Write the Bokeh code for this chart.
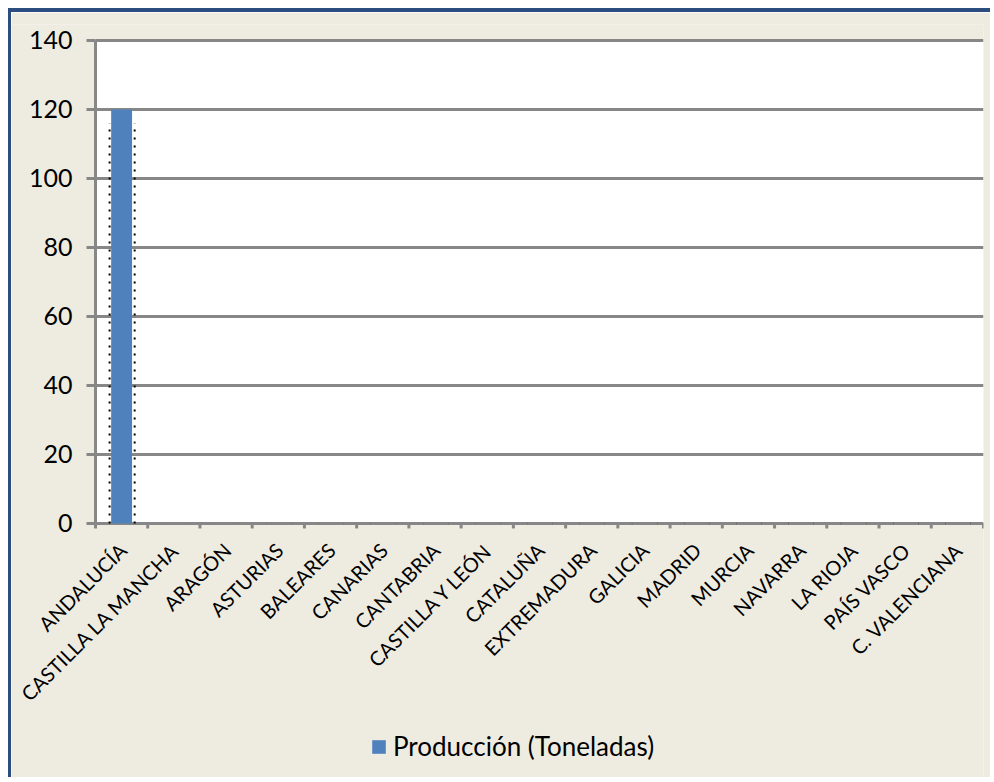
import numpy as np
from bokeh.plotting import figure
from bokeh.models import (ColumnDataSource, Range1d, FixedTicker, Legend, LegendItem)
from bokeh.core.properties import value
from bokeh.embed import file_html
from bokeh.resources import INLINE
from math import pi

# ---- data ----
comunidades = ["ANDALUCÍA", "CASTILLA LA MANCHA", "ARAGÓN", "ASTURIAS", "BALEARES",
               "CANARIAS", "CANTABRIA", "CASTILLA Y LEÓN", "CATALUÑA", "EXTREMADURA",
               "GALICIA", "MADRID", "MURCIA", "NAVARRA", "LA RIOJA", "PAÍS VASCO",
               "C. VALENCIANA"]
produccion = [120, 0, 0, 0, 0, 0, 0, 0, 0, 0, 0, 0, 0, 0, 0, 0, 0]
linea_punteada = [116, 0, 0, 0, 0, 0, 0, 0, 0, 0, 0, 0, 0, 0, 0, 0, 0]
y_ticks = [0, 20, 40, 60, 80, 100, 120, 140]
serie_nombre = "Producción (Toneladas)"

FONT = "Lato"
BG = "#EEECE1"
GRID = "#878787"
BAR = "#4F81BD"

n = len(comunidades)
idx = np.arange(n)
Y_MAX = 140
PX_PER_UNIT = 483 / Y_MAX
Y_TOP_VIEW = Y_MAX + 16 / PX_PER_UNIT   # room above so the top label is not clipped
Y_MIN_VIEW = -74.8                      # frame reaches down to hold labels + legend
X_MIN_VIEW = -2.108                     # frame reaches left to hold the long rotated labels
TICK_LEN = 5 / PX_PER_UNIT

p = figure(width=982, height=769, output_backend="svg", toolbar_location=None,
           x_range=Range1d(X_MIN_VIEW, n - 0.5), y_range=Range1d(Y_MIN_VIEW, Y_TOP_VIEW),
           x_axis_location=None,
           min_border_left=0, min_border_right=10, min_border_top=12,
           min_border_bottom=0)
p.styles = {"position": "relative", "left": "8px", "top": "8px",
            "border-top": "4px solid #2C4D7F", "border-left": "3px solid #2C4D7F"}
p.background_fill_color = BG
p.border_fill_color = BG
p.outline_line_color = None

# white plot area
p.quad(left=-0.5, right=n - 0.5, bottom=0, top=Y_MAX, fill_color="white",
       line_color=None, level="image")

# horizontal grid lines across the plot area only
p.segment(x0=-0.5, y0=y_ticks, x1=n - 0.5, y1=y_ticks, line_color=GRID,
          line_width=3, level="underlay")
p.xgrid.visible = False
p.ygrid.visible = False

src = ColumnDataSource(dict(x=idx, top=produccion, dots=linea_punteada,
                            y0=np.zeros(n), label=comunidades))
bars = p.vbar(x="x", top="top", width=0.4, source=src, fill_color=BAR, line_color=None)
p.segment(x0=idx - 0.23, y0=0, x1=idx - 0.23, y1=linea_punteada,
          line_color="black", line_width=2, line_dash="2 6")
p.segment(x0=idx + 0.25, y0=0, x1=idx + 0.25, y1=linea_punteada,
          line_color="black", line_width=2, line_dash="2 6")

# y axis (fixed at the left edge of the plot area)
p.yaxis.fixed_location = -0.5
p.yaxis.ticker = FixedTicker(ticks=y_ticks)
p.yaxis.bounds = (0, Y_MAX)
p.yaxis.axis_line_color = GRID
p.yaxis.axis_line_width = 3
p.yaxis.major_tick_line_color = GRID
p.yaxis.major_tick_line_width = 3
p.yaxis.major_tick_out = 9
p.yaxis.major_tick_in = 0
p.yaxis.minor_tick_line_color = None
p.yaxis.major_label_text_font = FONT
p.yaxis.major_label_text_font_size = "25px"
p.yaxis.major_label_text_color = "black"
p.yaxis.major_label_standoff = 14

# category axis: boundary ticks + rotated labels
bounds_x = np.arange(n + 1) - 0.5
p.segment(x0=bounds_x, y0=0, x1=bounds_x, y1=-TICK_LEN, line_color=GRID, line_width=3)
p.text(x="x", y="y0", text="label", source=src, angle=pi / 4,
       text_align="right", text_baseline="middle", x_offset=1, y_offset=23,
       text_font=value(FONT), text_font_size="20px", text_color="black")

legend = Legend(items=[LegendItem(label=serie_nombre, renderers=[bars])],
                location=(359, 19), orientation="horizontal",
                background_fill_alpha=0, border_line_color=None,
                label_text_font=FONT, label_text_font_size="26px",
                label_text_color="black",
                glyph_width=17, glyph_height=17, label_standoff=6,
                padding=0, margin=0)
p.add_layout(legend, "center")

open("out.html", "w").write(file_html(p, INLINE))
